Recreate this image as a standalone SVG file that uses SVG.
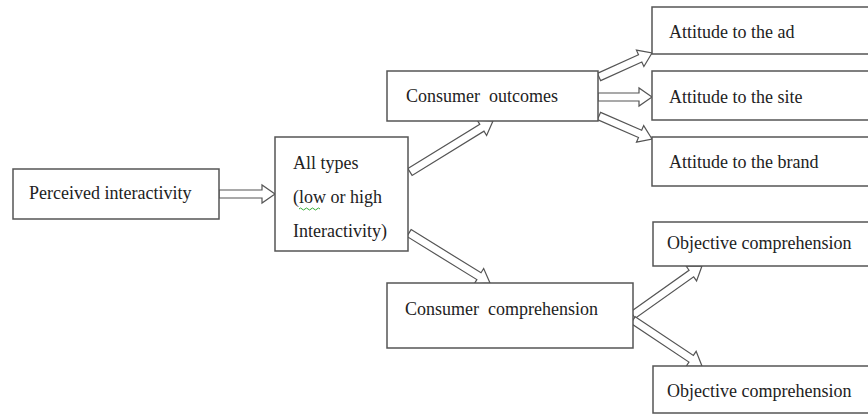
<svg xmlns="http://www.w3.org/2000/svg" width="868" height="414" viewBox="0 0 868 414">
<style>
.box{fill:#fff;stroke:#555;stroke-width:1.5}
.t{font-family:"Liberation Serif","Times New Roman",serif;font-size:18px;fill:#222}
.arr{fill:#fff;stroke:#555;stroke-width:1.2;stroke-linejoin:miter}
</style>
<rect width="868" height="414" fill="#fff"/>
<g id="connectors">
<polygon class="arr" transform="translate(219,194)" points="0,-4 43,-4 43,-9 56,0 43,9 43,4 0,4"/>
<polygon class="arr" transform="translate(410,172) rotate(-31.6)" points="0,-4 84.4,-4 84.4,-9 97.4,0 84.4,9 84.4,4 0,4"/>
<polygon class="arr" transform="translate(599,77) rotate(-24.4)" points="0,-4 45.2,-4 45.2,-9 58.2,0 45.2,9 45.2,4 0,4"/>
<polygon class="arr" transform="translate(598,97)" points="0,-4 41,-4 41,-9 54,0 41,9 41,4 0,4"/>
<polygon class="arr" transform="translate(599,116) rotate(23.5)" points="0,-4 44.8,-4 44.8,-9 57.8,0 44.8,9 44.8,4 0,4"/>
<polygon class="arr" transform="translate(409,233) rotate(31.7)" points="0,-4 82.2,-4 82.2,-9 95.2,0 82.2,9 82.2,4 0,4"/>
<polygon class="arr" transform="translate(633,315) rotate(-35.4)" points="0,-4 71.6,-4 71.6,-9 84.6,0 71.6,9 71.6,4 0,4"/>
<polygon class="arr" transform="translate(633,320) rotate(33.7)" points="0,-4 69.9,-4 69.9,-9 82.9,0 69.9,9 69.9,4 0,4"/>
</g>
<g id="perceived">
<rect class="box" x="13" y="169" width="206" height="50"/>
<text class="t" x="29" y="199">Perceived interactivity</text>
</g>
<g id="alltypes">
<rect class="box" x="275" y="137" width="133" height="114"/>
<text class="t" x="293" y="169">All types</text>
<text class="t" x="293" y="203">(low or high</text>
<path d="M299,209 q1.5,-2 3,0 t3,0 t3,0 t3,0 t3,0 t3,0 t3,0" fill="none" stroke="#3a3" stroke-width="1"/>
<text class="t" x="293" y="237">Interactivity)</text>
</g>
<g id="outcomes">
<rect class="box" x="387" y="71" width="211" height="50"/>
<text class="t" x="406" y="102" xml:space="preserve">Consumer  outcomes</text>
</g>
<g id="att-ad">
<rect class="box" x="652" y="7" width="230" height="47"/>
<text class="t" x="669" y="38">Attitude to the ad</text>
</g>
<g id="att-site">
<rect class="box" x="652" y="71" width="230" height="49"/>
<text class="t" x="669" y="103">Attitude to the site</text>
</g>
<g id="att-brand">
<rect class="box" x="652" y="137" width="230" height="49"/>
<text class="t" x="669" y="168">Attitude to the brand</text>
</g>
<g id="comprehension">
<rect class="box" x="387" y="283" width="246" height="65"/>
<text class="t" x="405" y="315" xml:space="preserve">Consumer  comprehension</text>
</g>
<g id="obj1">
<rect class="box" x="653" y="222" width="230" height="44"/>
<text class="t" x="667" y="249">Objective comprehension</text>
</g>
<g id="obj2">
<rect class="box" x="653" y="366" width="230" height="47"/>
<text class="t" x="667" y="397">Objective comprehension</text>
</g>
</svg>
